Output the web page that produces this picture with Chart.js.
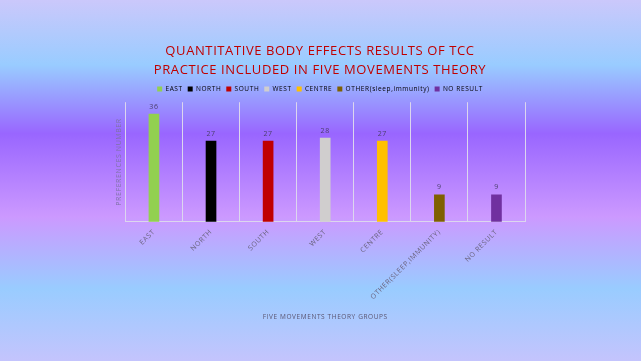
<!DOCTYPE html>
<html>
<head>
<meta charset="utf-8">
<script src="https://cdn.jsdelivr.net/npm/chart.js@4/dist/chart.umd.min.js"></script>
<style>
  html, body { margin: 0; padding: 0; }
  #wrap {
    width: 641px; height: 361px; position: relative;
    background: linear-gradient(to bottom, #cbc8fb 0%, #99ccff 18%, #9966ff 37%, #cc99ff 60%, #99ccff 80%, #c4c4fd 100%);
  }
</style>
</head>
<body>
<div id="wrap"><canvas id="chart" width="641" height="361"></canvas></div>
<script>
const groups = ['EAST', 'NORTH', 'SOUTH', 'WEST', 'CENTRE', 'OTHER(SLEEP,IMMUNITY)', 'NO RESULT'];
const legendNames = ['EAST', 'NORTH', 'SOUTH', 'WEST', 'CENTRE', 'OTHER(sleep,immunity)', 'NO RESULT'];
const preferences = [36, 27, 27, 28, 27, 9, 9];
const barColors = ['#92d050', '#000000', '#c00000', '#d0cece', '#ffc000', '#7f6000', '#7030a0'];

const textGray = '#6b6480';

// wide letter spacing like the original slide text
const spacing = {
    id: 'spacing',
    beforeUpdate(chart) { chart.ctx.letterSpacing = '0.6px'; },
    beforeDraw(chart) { chart.ctx.letterSpacing = '0.6px'; }
};

// numbers above the bars
const valueLabels = {
    id: 'valueLabels',
    afterDatasetsDraw(chart) {
        const ctx = chart.ctx;
        const meta = chart.getDatasetMeta(0);
        ctx.save();
        ctx.font = '7px "Open Sans"';
        ctx.fillStyle = '#4a3f6b';
        ctx.textAlign = 'center';
        ctx.textBaseline = 'bottom';
        meta.data.forEach((bar, i) => {
            ctx.fillText(preferences[i], bar.x, bar.y - 4);
        });
        ctx.restore();
    }
};

new Chart(document.getElementById('chart'), {
    type: 'bar',
    data: {
        labels: groups,
        datasets: [{
            label: 'PREFERENCES NUMBER',
            data: preferences,
            backgroundColor: barColors,
            barThickness: 10
        }]
    },
    options: {
        responsive: false,
        animation: false,
        layout: { padding: { left: 115, right: 116, top: 42, bottom: 36 } },
        plugins: {
            title: {
                display: true,
                text: ['QUANTITATIVE BODY EFFECTS RESULTS OF TCC', 'PRACTICE INCLUDED IN FIVE MOVEMENTS THEORY'],
                color: '#c00000',
                font: { family: 'Open Sans', size: 13, weight: 'normal', lineHeight: 1.45 },
                padding: { top: 0, bottom: 1 }
            },
            legend: {
                display: true,
                labels: {
                    boxWidth: 5,
                    boxHeight: 5,
                    padding: 5,
                    color: textGray,
                    font: { family: 'Open Sans', size: 6.5 },
                    generateLabels() {
                        return legendNames.map((name, i) => ({
                            text: name,
                            fillStyle: barColors[i],
                            strokeStyle: barColors[i],
                            lineWidth: 0,
                            hidden: false,
                            index: i
                        }));
                    }
                },
                onClick() {}
            },
            tooltip: { enabled: false }
        },
        scales: {
            x: {
                grid: { display: true, color: '#dcd6ee', lineWidth: 1, drawTicks: false, offset: true },
                border: { display: true, color: '#dcd6ee' },
                ticks: {
                    color: textGray,
                    font: { family: 'Open Sans', size: 7 },
                    minRotation: 45,
                    maxRotation: 45,
                    padding: 6
                },
                title: {
                    display: true,
                    text: 'FIVE MOVEMENTS THEORY GROUPS',
                    color: '#5a5570',
                    font: { family: 'Open Sans', size: 6.5 },
                    padding: { top: 6 }
                }
            },
            y: {
                min: 0,
                max: 40,
                grid: { display: false, drawTicks: false },
                border: { display: false },
                ticks: { display: false },
                title: {
                    display: true,
                    text: 'PREFERENCES NUMBER',
                    color: '#7f72a6',
                    font: { family: 'Open Sans', size: 7 },
                    padding: { top: 0, bottom: 2 }
                }
            }
        }
    },
    plugins: [spacing, valueLabels]
});
</script>
</body>
</html>
